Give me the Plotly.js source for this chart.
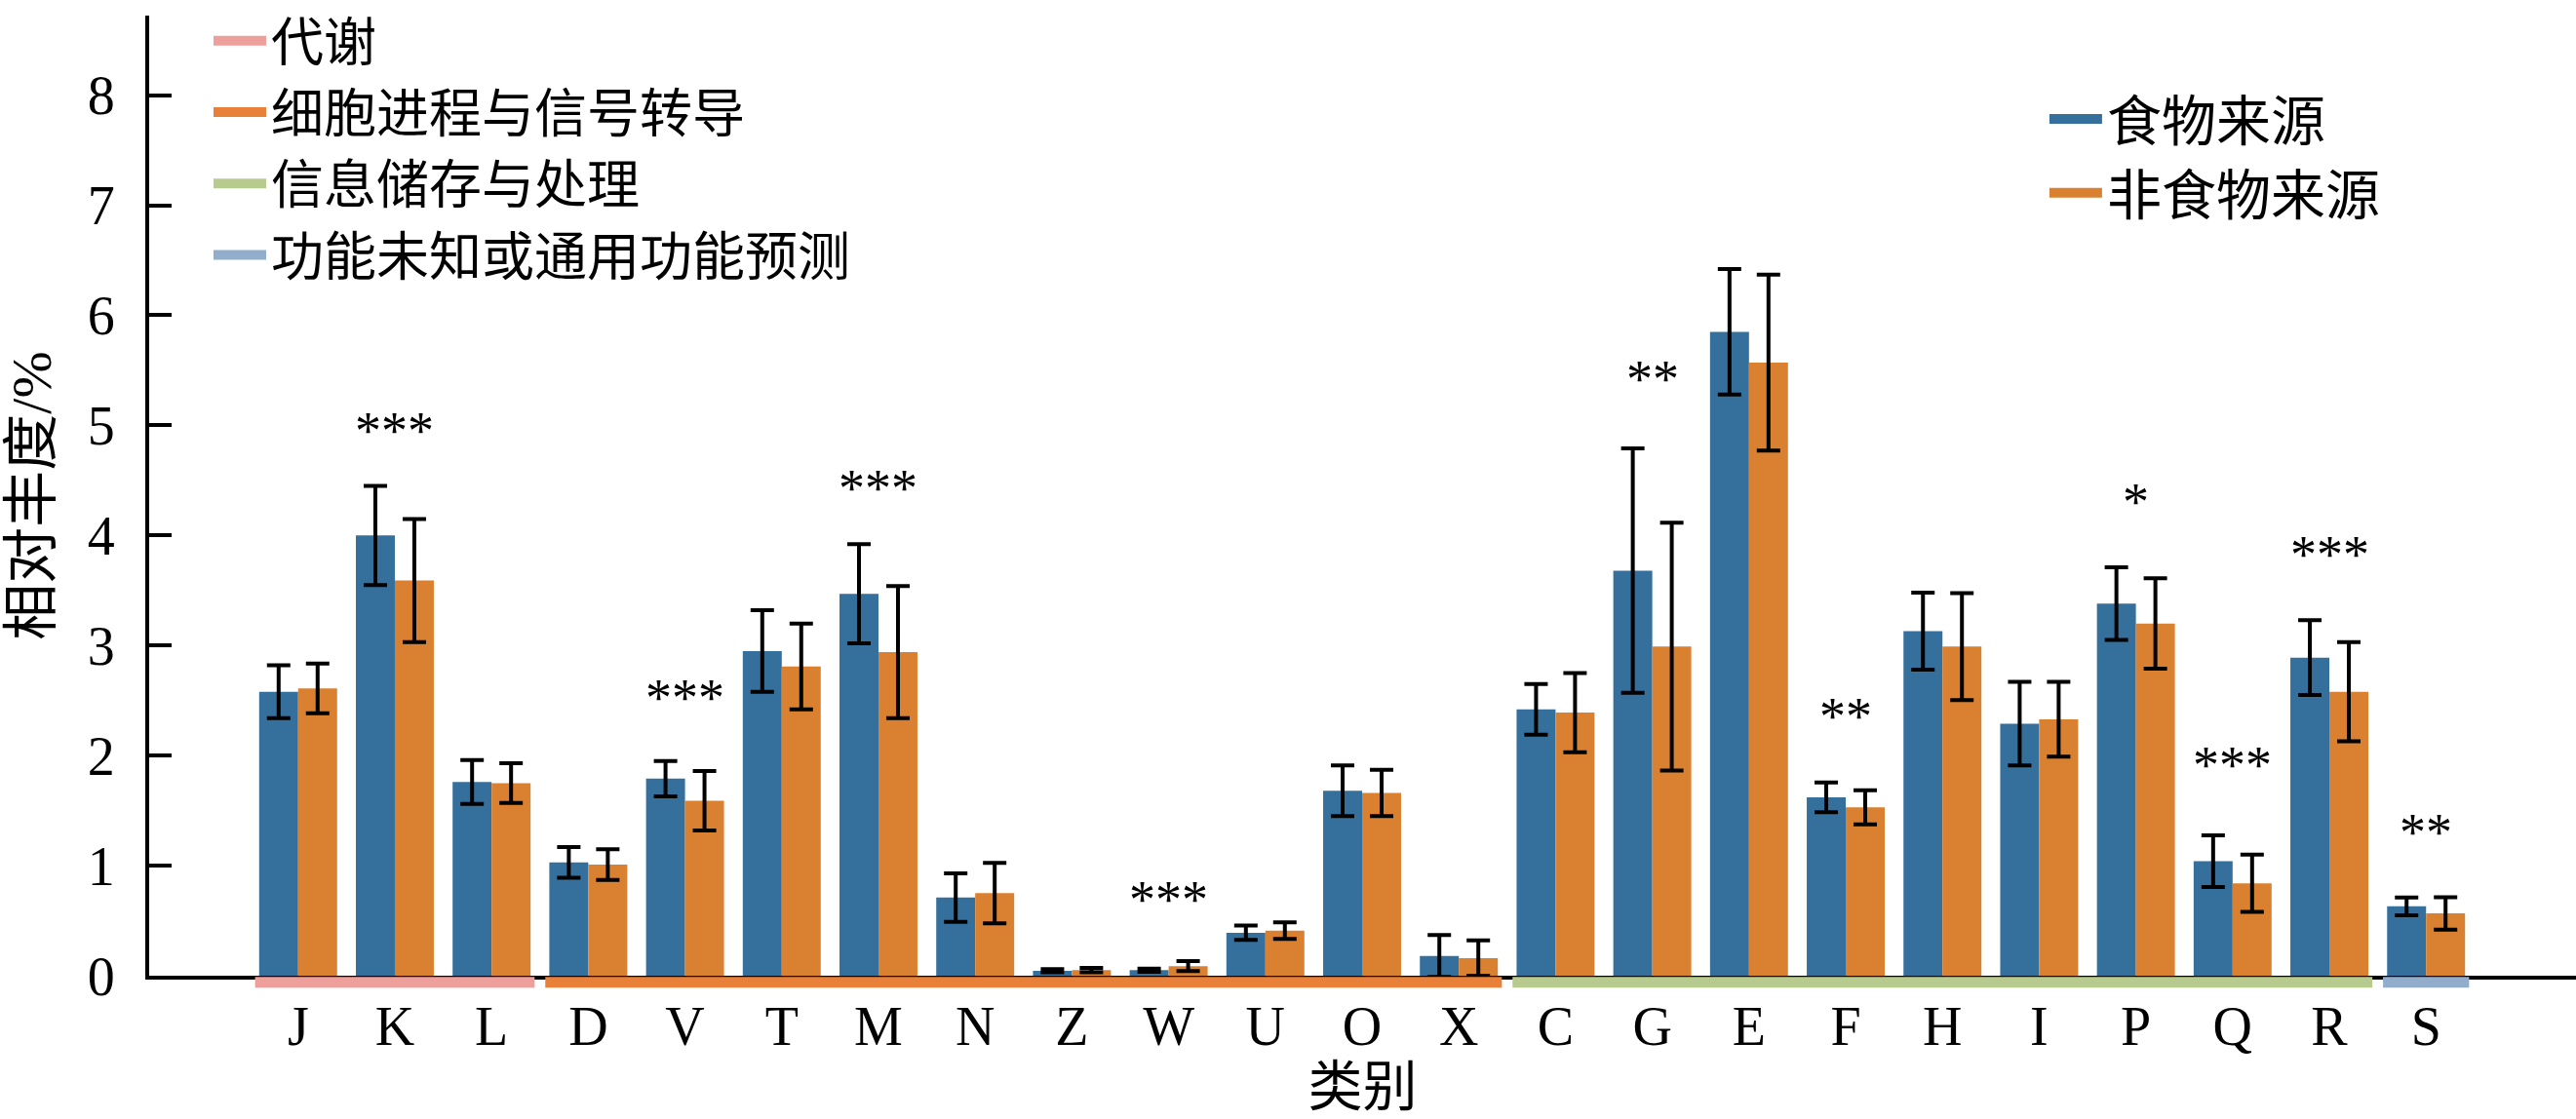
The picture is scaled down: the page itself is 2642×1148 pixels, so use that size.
<!DOCTYPE html>
<html>
<head>
<meta charset="utf-8">
<script src="https://cdn.plot.ly/plotly-3.0.1.min.js"></script>
<style>html,body{margin:0;padding:0;background:#fff;}</style>
</head>
<body>
<div id="plot1" style="width:2642px;height:1148px;"></div>
<script>
// COG categories, in the order they are drawn
var categories = ['J','K','L','D','V','T','M','N','Z','W','U','O','X','C','G','E','F','H','I','P','Q','R','S'];

var foodMean    = [2.58, 4.00, 1.76, 1.03, 1.79, 2.95, 3.47, 0.71, 0.045, 0.05, 0.39, 1.68, 0.18, 2.42, 3.68, 5.85, 1.62, 3.13, 2.29, 3.38, 1.04, 2.89, 0.63];
var foodErr     = [0.24, 0.45, 0.20, 0.14, 0.16, 0.37, 0.45, 0.22, 0.015, 0.015, 0.065, 0.23, 0.19, 0.23, 1.11, 0.57, 0.135, 0.35, 0.38, 0.33, 0.235, 0.34, 0.08];
var nonFoodMean = [2.61, 3.59, 1.75, 1.01, 1.59, 2.81, 2.94, 0.75, 0.05, 0.087, 0.41, 1.66, 0.16, 2.39, 2.99, 5.57, 1.53, 2.99, 2.33, 3.20, 0.84, 2.58, 0.566];
var nonFoodErr  = [0.225, 0.56, 0.18, 0.14, 0.27, 0.39, 0.60, 0.275, 0.02, 0.045, 0.075, 0.21, 0.16, 0.36, 1.125, 0.80, 0.155, 0.485, 0.34, 0.41, 0.26, 0.45, 0.147];

// significance marks and the height they sit at
var sigCats   = ['K','V','M','W','G','F','P','Q','R','S'];
var sigLabels = ['***','***','***','***','**','**','*','***','***','**'];
var sigY      = [4.95, 2.52, 4.43, 0.69, 5.42, 2.36, 4.30, 1.91, 3.83, 1.30];

// functional groups under the axis
var groupNames  = ['代谢','细胞进程与信号转导','信息储存与处理','功能未知或通用功能预测'];
var groupFirst  = ['J','D','C','S'];
var groupLast   = ['L','X','R','S'];
var groupColors = ['#ee9f9b','#e9803a','#b8cb8e','#92adcb'];

var seriesNames = ['食物来源','非食物来源'];
var seriesColors = ['#35709c','#d98031'];

var fontFamily = 'Liberation Serif, Noto Sans CJK SC, serif';

var food = {
	x: categories,
	y: foodMean,
	name: seriesNames[0],
	type: 'bar',
	showlegend: false,
	marker: {color: seriesColors[0]},
	error_y: {type: 'data', array: foodErr, visible: true, color: '#000', thickness: 4, width: 12}
};

var nonFood = {
	x: categories,
	y: nonFoodMean,
	name: seriesNames[1],
	type: 'bar',
	showlegend: false,
	marker: {color: seriesColors[1]},
	error_y: {type: 'data', array: nonFoodErr, visible: true, color: '#000', thickness: 4, width: 12}
};

// legend keys for the two series (wide flat patches like the original)
var foodKey = {
	x: [null], y: [null],
	name: seriesNames[0],
	mode: 'lines',
	legend: 'legend2',
	line: {color: seriesColors[0], width: 16}
};
var nonFoodKey = {
	x: [null], y: [null],
	name: seriesNames[1],
	mode: 'lines',
	legend: 'legend2',
	line: {color: seriesColors[1], width: 16}
};

var shapes = [];
for (var g = 0; g < groupNames.length; g++) {
	shapes.push({
		type: 'line',
		xref: 'x',
		yref: 'paper',
		x0: categories.indexOf(groupFirst[g]) - 0.445,
		x1: categories.indexOf(groupLast[g]) + 0.445,
		y0: -0.0068,
		y1: -0.0068,
		line: {color: groupColors[g], width: 11},
		showlegend: true,
		name: groupNames[g],
		legend: 'legend'
	});
}

var annotations = [];
for (var s = 0; s < sigCats.length; s++) {
	annotations.push({
		x: sigCats[s],
		y: sigY[s],
		xref: 'x',
		yref: 'y',
		text: sigLabels[s],
		showarrow: false,
		yanchor: 'middle',
		font: {family: fontFamily, size: 54, color: '#000'}
	});
}

var layout = {
	autosize: false,
	width: 2642,
	height: 1148,
	paper_bgcolor: '#fff',
	plot_bgcolor: 'rgba(0,0,0,0)',
	barmode: 'group',
	bargap: 0.194,
	bargroupgap: 0,
	hovermode: false,
	margin: {l: 153, r: 0, t: 0, b: 147, pad: 0},
	font: {family: fontFamily, size: 56, color: '#000'},
	xaxis: {
		type: 'category',
		range: [-1.54, 23.55],
		showline: true,
		linecolor: '#000',
		linewidth: 4,
		ticks: '',
		showgrid: false,
		zeroline: false,
		ticklabelstandoff: 0,
		tickfont: {family: fontFamily, size: 56, color: '#000'},
		title: {text: '类别', standoff: 8, font: {family: fontFamily, size: 56, color: '#000'}}
	},
	yaxis: {
		range: [0, 8.723],
		tickvals: [0,1,2,3,4,5,6,7,8],
		showline: true,
		linecolor: '#000',
		linewidth: 4,
		ticks: 'inside',
		ticklen: 23,
		tickwidth: 4,
		tickcolor: '#000',
		showgrid: false,
		zeroline: false,
		ticklabelstandoff: 20,
		tickfont: {family: fontFamily, size: 56, color: '#000'},
		title: {text: '相对丰度/%', standoff: 40, font: {family: fontFamily, size: 58, color: '#000'}}
	},
	legend: {
		x: 0.0245,
		xanchor: 'left',
		y: 1.016,
		yanchor: 'top',
		bgcolor: 'rgba(0,0,0,0)',
		itemwidth: 54,
		tracegroupgap: 0,
		font: {family: fontFamily, size: 54, color: '#000'}
	},
	legend2: {
		x: 0.781,
		xanchor: 'left',
		y: 0.936,
		yanchor: 'top',
		bgcolor: 'rgba(0,0,0,0)',
		itemwidth: 54,
		font: {family: fontFamily, size: 56, color: '#000'}
	},
	shapes: shapes,
	annotations: annotations
};

var data = [food, nonFood, foodKey, nonFoodKey];

Plotly.newPlot('plot1', data, layout, {staticPlot: true});
</script>
</body>
</html>
